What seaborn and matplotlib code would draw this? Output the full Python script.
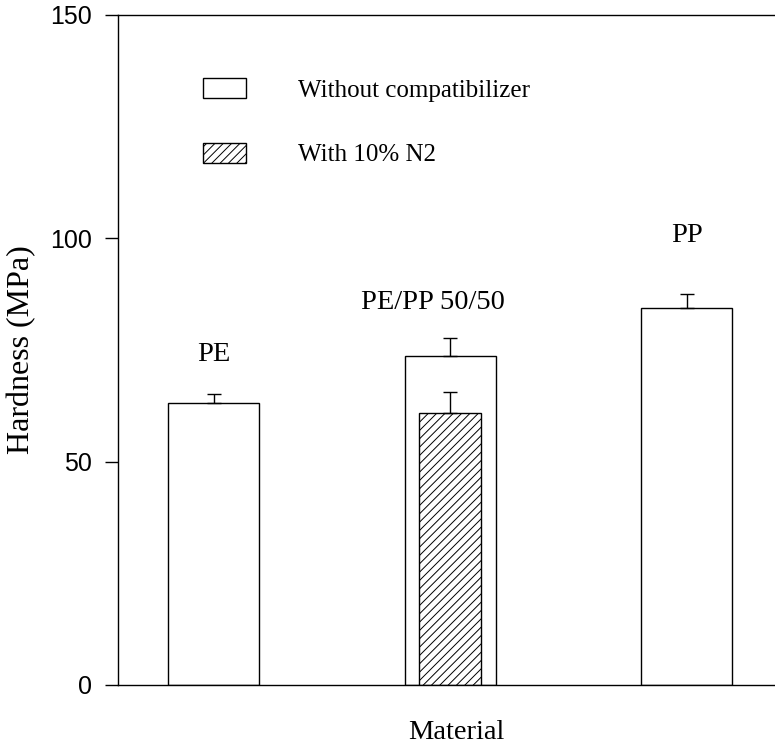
#!/usr/bin/env python3
# Hardness of PE, PP and a 50/50 blend, with and without compatibilizer

import numpy as np
import pandas as pd
import seaborn as sns
import matplotlib.pyplot as plt
from matplotlib.patches import Patch

sns.set_style("ticks")
plt.rcParams.update({
    "text.color": "black",
    "axes.labelcolor": "black",
    "xtick.color": "black",
    "ytick.color": "black",
    "hatch.linewidth": 0.7,
})

SERIF = "Liberation Serif"
SANS = "Liberation Sans"

materials = ["PE", "PE/PP 50/50", "PP"]
hardness_plain = [63.1, 73.6, 84.3]
error_plain = [2.0, 4.0, 3.2]

blend = ["PE/PP 50/50"]
hardness_n2 = [60.8]
error_n2 = [4.7]

# where the material names are written (category offset, MPa)
label_dx = [0.0, -0.074, 0.0]
label_heights = [74.0, 85.7, 100.7]


def plot_hardness(outpath="out.png"):
    fig = plt.figure(figsize=(7.75, 7.47), dpi=100)
    ax = fig.add_axes([118 / 775, 1 - 685 / 747, 1 - 118 / 775, 670 / 747])

    df = pd.DataFrame({"material": materials, "hardness": hardness_plain})
    sns.barplot(x="material", y="hardness", data=df, order=materials, ax=ax,
                color="white", edgecolor="black", linewidth=1.0, width=0.385,
                errorbar=None, saturation=1)

    df2 = pd.DataFrame({"material": blend, "hardness": hardness_n2})
    sns.barplot(x="material", y="hardness", data=df2, order=materials, ax=ax,
                color="white", edgecolor="black", linewidth=1.0, width=0.262,
                errorbar=None, saturation=1, hatch="////")

    # one-sided error bars
    xpos = np.arange(len(materials))
    ax.errorbar(xpos, hardness_plain, yerr=[np.zeros(3), error_plain],
                fmt="none", ecolor="black", elinewidth=1.0, capsize=5, capthick=1.0)
    bx = [materials.index(m) for m in blend]
    ax.errorbar(bx, hardness_n2, yerr=[np.zeros(1), error_n2],
                fmt="none", ecolor="black", elinewidth=1.0, capsize=5, capthick=1.0)

    for i, name in enumerate(materials):
        ax.text(i + label_dx[i], label_heights[i], name, ha="center", va="center",
                fontsize=20.5, family=SERIF)

    ax.set_xlim(-0.404, 2.374)
    ax.set_ylim(0, 150)
    ax.set_yticks([0, 50, 100, 150])
    ax.set_xticks([])
    ax.tick_params(axis="y", direction="out", length=9.5, width=1.0, pad=9,
                   labelsize=18)
    for t in ax.get_yticklabels():
        t.set_family(SANS)

    for side in ("left", "bottom", "top"):
        ax.spines[side].set_visible(True)
        ax.spines[side].set_linewidth(1.0)
        ax.spines[side].set_color("black")
    ax.spines["right"].set_visible(False)

    ax.set_ylabel("Hardness (MPa)", fontsize=23, family=SERIF)
    ax.yaxis.set_label_coords(-0.125, 0.5)
    ax.set_xlabel("Material", fontsize=20.5, family=SERIF)
    ax.xaxis.set_label_coords(0.515, -0.052)

    handles = [
        Patch(facecolor="white", edgecolor="black", linewidth=1.0,
              label="Without compatibilizer"),
        Patch(facecolor="white", edgecolor="black", linewidth=1.0, hatch="////",
              label="With 10% N2"),
    ]
    ax.legend(handles=handles, loc="upper left",
              bbox_to_anchor=((203 - 118) / 657, (685 - 78) / 670),
              frameon=False, borderpad=0, borderaxespad=0,
              handlelength=1.7, handleheight=0.85, handletextpad=2.1,
              labelspacing=1.65, prop={"family": SERIF, "size": 18})

    fig.savefig(outpath, dpi=100)


if __name__ == "__main__":
    plot_hardness()
